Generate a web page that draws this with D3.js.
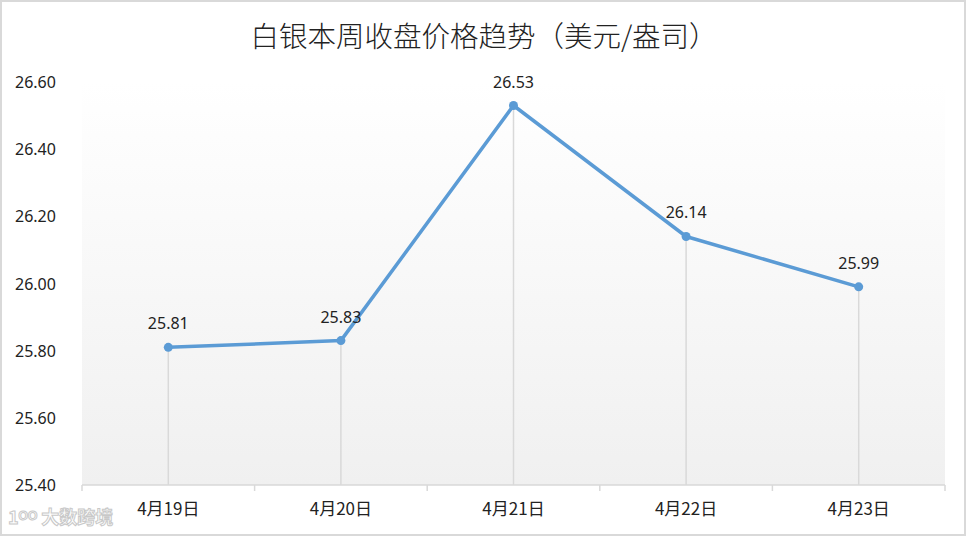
<!DOCTYPE html>
<html><head><meta charset="utf-8">
<script src="https://cdn.jsdelivr.net/npm/d3@7"></script>
<style>html,body{margin:0;padding:0;background:#fff;}</style>
</head><body>
<svg id="c" width="967" height="537"></svg>
<script>
const categories = ["4月19日","4月20日","4月21日","4月22日","4月23日"];
const values = [25.81, 25.83, 26.53, 26.14, 25.99];
const yTicks = [25.40, 25.60, 25.80, 26.00, 26.20, 26.40, 26.60];
const title = "白银本周收盘价格趋势（美元/盎司）";

const svg = d3.select("#c");
const W = 967, H = 537;
const m = {l: 82, r: 22, t: 82, b: 52};
const x = d3.scaleBand().domain(categories).range([m.l, W - m.r]);
const y = d3.scaleLinear().domain([25.4, 26.6]).range([H - m.b, m.t]);

const defs = svg.append("defs");
const g = defs.append("linearGradient").attr("id","bg").attr("x1",0).attr("y1",0).attr("x2",0).attr("y2",1);
g.append("stop").attr("offset","0%").attr("stop-color","#ffffff");
g.append("stop").attr("offset","100%").attr("stop-color","#f0f0f0");

// border
svg.append("rect").attr("x",1).attr("y",1).attr("width",W-3).attr("height",H-3)
  .attr("fill","#fff").attr("stroke","#d9d9d9").attr("stroke-width",2);

// plot background
svg.append("rect").attr("x",m.l).attr("y",y(26.6)).attr("width",W-m.r-m.l).attr("height",y(25.4)-y(26.6))
  .attr("fill","url(#bg)");

// title
svg.append("text").attr("x",484).attr("y",47).attr("text-anchor","middle")
  .attr("font-family","'Noto Sans CJK SC', sans-serif").attr("font-weight",300)
  .attr("font-size",28.5).attr("fill","#222").text(title);

// y axis labels
svg.selectAll(".yl").data(yTicks).enter().append("text")
  .attr("x",15).attr("y",d=>y(d)+6)
  .attr("font-family","'Noto Sans', 'DejaVu Sans', sans-serif").attr("font-size",16).attr("fill","#222")
  .text(d=>d.toFixed(2));

// drop lines
svg.selectAll(".drop").data(values).enter().append("line")
  .attr("x1",(d,i)=>x(categories[i])+x.bandwidth()/2).attr("x2",(d,i)=>x(categories[i])+x.bandwidth()/2)
  .attr("y1",d=>y(d)).attr("y2",y(25.4)).attr("stroke","#d9d9d9").attr("stroke-width",1.5);

// x axis
const xa = svg.append("g").attr("transform",`translate(0,${y(25.4)})`);
xa.append("line").attr("x1",m.l).attr("x2",W-m.r).attr("stroke","#d9d9d9").attr("stroke-width",1.5);
const bounds = categories.map(c=>x(c)).concat([W-m.r]);
xa.selectAll(".tk").data(bounds).enter().append("line")
  .attr("x1",d=>d).attr("x2",d=>d).attr("y1",0).attr("y2",6).attr("stroke","#d9d9d9").attr("stroke-width",1.5);
xa.selectAll(".xl").data(categories).enter().append("text")
  .attr("x",d=>x(d)+x.bandwidth()/2).attr("y",30).attr("text-anchor","middle")
  .attr("font-family","'Noto Sans CJK SC', sans-serif").attr("font-size",17).attr("fill","#222")
  .text(d=>d);

// line
const line = d3.line().x((d,i)=>x(categories[i])+x.bandwidth()/2).y(d=>y(d));
svg.append("path").datum(values).attr("d",line).attr("fill","none")
  .attr("stroke","#5b9bd5").attr("stroke-width",3.5).attr("stroke-linejoin","round");
svg.selectAll(".pt").data(values).enter().append("circle")
  .attr("cx",(d,i)=>x(categories[i])+x.bandwidth()/2).attr("cy",d=>y(d)).attr("r",4.5)
  .attr("fill","#5b9bd5");

// data labels
svg.selectAll(".dl").data(values).enter().append("text")
  .attr("x",(d,i)=>x(categories[i])+x.bandwidth()/2).attr("y",d=>y(d)-18).attr("text-anchor","middle")
  .attr("font-family","'Noto Sans', 'DejaVu Sans', sans-serif").attr("font-size",16).attr("fill","#222")
  .text(d=>d.toFixed(2));

// watermark
svg.append("text").attr("x",8).attr("y",524)
  .attr("font-family","'Noto Sans CJK SC', sans-serif").attr("font-weight",700).attr("font-size",18)
  .attr("fill","#fff").attr("stroke","#c8c8c8").attr("stroke-width",1).text("1ᴼᴼ 大数跨境");
</script>
</body></html>
